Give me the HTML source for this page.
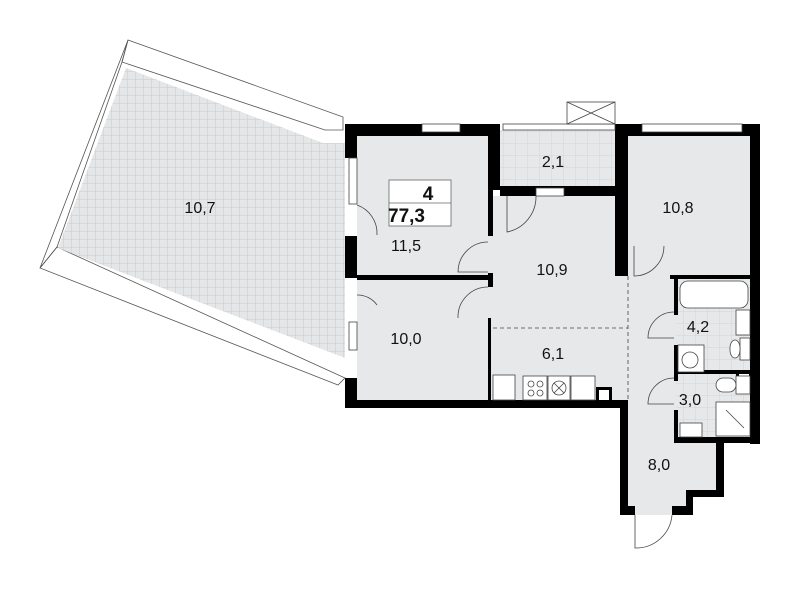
<!DOCTYPE html>
<html><head><meta charset="utf-8"><style>
html,body{margin:0;padding:0;background:#fff}
svg{display:block}
text{font-family:"Liberation Sans","DejaVu Sans",sans-serif;font-size:16px;fill:#111}
</style></head><body>
<svg width="800" height="590" viewBox="0 0 800 590" xmlns="http://www.w3.org/2000/svg">
<defs>
<pattern id="g" width="8" height="8" patternUnits="userSpaceOnUse">
<rect width="8" height="8" fill="#e4e6e8"/>
<path d="M8 0V8M0 8H8" stroke="#c9cbcd" stroke-width="1"/>
</pattern>
<pattern id="t" width="12" height="12" patternUnits="userSpaceOnUse">
<rect width="12" height="12" fill="#e6e8ea"/>
<path d="M12 0V12M0 12H12" stroke="#d2d4d6" stroke-width="1"/>
</pattern>
</defs>
<!-- big loggia -->
<polygon points="128,40 343,117 343,130 325,130 122,62" fill="none" stroke="#555" stroke-width="0.8"/>
<polygon points="40,268 57,247 345,378 338,385" fill="none" stroke="#555" stroke-width="0.8"/>
<polygon points="128,40 122,62 57,247 40,268" fill="none" stroke="#555" stroke-width="0.8"/>
<polygon points="126,68 323,143 345,143 345,358 58,248" fill="url(#g)"/>
<text x="200" y="213" text-anchor="middle">10,7</text>
<!-- room floors -->
<rect x="357" y="136" width="133" height="264" fill="#e6e8ea"/>
<rect x="490" y="196" width="138" height="204" fill="#e6e8ea"/>
<rect x="628" y="136" width="122" height="140" fill="#e6e8ea"/>
<polygon points="628,276 676,276 676,443 718,443 718,492 686,492 686,515 628,515" fill="#e6e8ea"/>
<rect x="500" y="130" width="115" height="58" fill="url(#t)"/>
<rect x="676" y="279" width="74" height="160" fill="url(#t)"/>
<!-- walls -->
<g fill="#000">
<rect x="345" y="124" width="155" height="12"/>
<rect x="345" y="124" width="12" height="34"/>
<rect x="345" y="236" width="12" height="42"/>
<rect x="345" y="378" width="12" height="30"/>
<rect x="345" y="400" width="283" height="8"/>
<rect x="357" y="275" width="133" height="5"/>
<rect x="488" y="124" width="12" height="66"/>
<rect x="488" y="190" width="5" height="46"/>
<rect x="488" y="273" width="5" height="14"/>
<rect x="488" y="318" width="3" height="82"/>
<rect x="500" y="186" width="128" height="10"/>
<rect x="615" y="124" width="13" height="152"/>
<rect x="615" y="124" width="145" height="12"/>
<rect x="750" y="124" width="10" height="320"/>
<rect x="670" y="275" width="90" height="4"/>
<rect x="674" y="275" width="4" height="40"/>
<rect x="674" y="345" width="4" height="36"/>
<rect x="674" y="370" width="86" height="4"/>
<rect x="674" y="410" width="4" height="33"/>
<rect x="674" y="437" width="86" height="6"/>
<rect x="716" y="437" width="8" height="60"/>
<rect x="686" y="490" width="38" height="7"/>
<rect x="686" y="490" width="7" height="25"/>
<rect x="672" y="506" width="21" height="9"/>
<rect x="620" y="400" width="8" height="115"/>
<rect x="620" y="506" width="15" height="9"/>
<rect x="736" y="372" width="14" height="12"/>
<rect x="596" y="387" width="16" height="13"/>
</g>
<rect x="599" y="390" width="10" height="10" fill="#fff"/>
<rect x="739" y="374" width="10" height="8" fill="#fff"/>
<!-- windows -->
<g fill="#fff" stroke="#444" stroke-width="0.8">
<rect x="422" y="124" width="38" height="8"/>
<rect x="503" y="124" width="112" height="6"/>
<rect x="642" y="124" width="100" height="8"/>
<rect x="349" y="158" width="8" height="46"/>
<rect x="349" y="322" width="8" height="28"/>
<rect x="536" y="188" width="28" height="8"/>
<rect x="567" y="102" width="48" height="22"/>
</g>
<path d="M567 102L615 124M615 102L567 124" stroke="#444" stroke-width="0.8"/>
<!-- doors -->
<g fill="none" stroke="#444" stroke-width="0.8">
<path d="M357 205A30 30 0 0 1 377 235"/>
<path d="M357 295A24 24 0 0 1 377 305"/>
<path d="M488 242A30 30 0 0 0 458 272H488"/>
<path d="M488 287A30 30 0 0 0 458 318"/>
<path d="M507 196V232A36 36 0 0 0 536 196"/>
<path d="M634 246V276A30 30 0 0 0 664 246"/>
<path d="M674 312A26 26 0 0 0 648 338H674"/>
<path d="M674 378A26 26 0 0 0 648 404H674"/>
<path d="M635 515V548A36 36 0 0 0 672 515"/>
<path d="M493 328H628M628 276V400" stroke-dasharray="4,3"/>
</g>
<!-- kitchen -->
<g fill="#fff" stroke="#444" stroke-width="0.8">
<rect x="493" y="375" width="22" height="25"/>
<rect x="523" y="376" width="24" height="24"/>
<rect x="548" y="376" width="22" height="24"/>
<rect x="571" y="376" width="24" height="24"/>
<circle cx="559" cy="388" r="7"/>
<circle cx="531" cy="384" r="3"/><circle cx="540" cy="384" r="3"/>
<circle cx="531" cy="393" r="3"/><circle cx="540" cy="393" r="3"/>
<rect x="680" y="281" width="68" height="27" rx="8"/>
<rect x="736" y="310" width="14" height="25"/>
<rect x="678" y="345" width="26" height="27"/>
<circle cx="690" cy="360" r="8"/>
<rect x="740" y="338" width="10" height="22"/>
<rect x="730" y="340" width="10" height="18" rx="8"/>
<rect x="736" y="376" width="14" height="18"/>
<rect x="716" y="378" width="20" height="14" rx="7"/>
<rect x="716" y="402" width="34" height="34"/>
<rect x="680" y="423" width="22" height="14"/>
</g>
<path d="M559 388m-5 -5l10 10m0 -10l-10 10M726 410L744 428" stroke="#444" stroke-width="0.8"/>
<!-- label box -->
<rect x="389" y="180" width="62" height="46" fill="#fff" stroke="#666" stroke-width="0.8"/>
<line x1="389" y1="203" x2="451" y2="203" stroke="#666" stroke-width="0.8"/>
<text x="428" y="200" text-anchor="middle" style="font-size:19px;font-weight:bold">4</text>
<text x="388" y="222" style="font-size:19px;font-weight:bold">77,3</text>
<text x="406" y="251" text-anchor="middle">11,5</text>
<text x="406" y="344" text-anchor="middle">10,0</text>
<text x="553" y="167" text-anchor="middle">2,1</text>
<text x="552" y="275" text-anchor="middle">10,9</text>
<text x="678" y="213" text-anchor="middle">10,8</text>
<text x="553" y="359" text-anchor="middle">6,1</text>
<text x="698" y="332" text-anchor="middle">4,2</text>
<text x="690" y="405" text-anchor="middle">3,0</text>
<text x="659" y="470" text-anchor="middle">8,0</text>
</svg>
</body></html>
